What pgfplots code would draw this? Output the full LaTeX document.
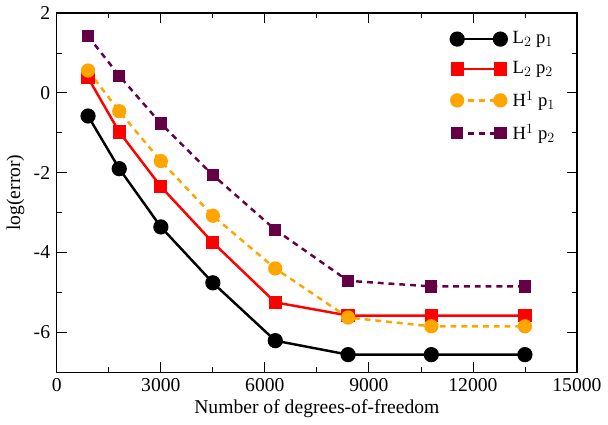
\documentclass[border=0pt]{standalone}
\usepackage{pgfplots}
\pgfplotsset{compat=1.18}
\usepackage{fontspec}
\setmainfont{Liberation Serif}
\definecolor{cpurple}{HTML}{660044}
\definecolor{corange}{HTML}{FFA500}
\begin{document}
\fontsize{20}{24}\selectfont
\begin{tikzpicture}
\begin{axis}[
  scale only axis,
  width=530pt, height=366pt,
  xmin=0, xmax=15000, ymin=-7, ymax=2,
  scaled x ticks=false,
  xtick={0,3000,6000,9000,12000,15000},
  minor xtick={1500,4500,7500,10500,13500},
  ytick={-6,-4,-2,0,2},
  minor ytick={-7,-5,-3,-1,1},
  tick align=inside,
  major tick length=10pt, minor tick length=5pt,
  every tick/.style={black, line width=0.8pt},
  axis line style={line width=1.2pt},
  /pgf/number format/1000 sep={},
  /pgf/number format/assume math mode=true,
  ticklabel style={font=\fontsize{20}{24}\selectfont},
  label style={font=\fontsize{20}{24}\selectfont},
  xlabel={Number of degrees-of-freedom},
  ylabel={log(error)},
  xlabel style={yshift=6pt},
  ylabel style={yshift=-4pt},
  legend style={draw=none, fill=none, at={(0.975,0.96)}, anchor=north east,
    font=\fontsize{19}{22}\selectfont, row sep=11pt, nodes={inner xsep=6pt}},
  legend cell align=left,
  legend image code/.code={\draw[#1] plot coordinates {(0pt,0pt) (44pt,0pt)};},
]
\addplot[black, line width=2.5pt, mark=*, mark size=6.5pt, mark options={solid}]
 coordinates {(900,-0.58) (1800,-1.90) (3000,-3.36) (4500,-4.76) (6300,-6.21) (8400,-6.56) (10800,-6.56) (13500,-6.56)};
\addlegendentry{L$_2$ p$_1$}
\addplot[red, line width=2.5pt, mark=square*, mark size=5.5pt, mark options={solid}]
 coordinates {(900,0.38) (1800,-0.98) (3000,-2.35) (4500,-3.75) (6300,-5.25) (8400,-5.58) (10800,-5.58) (13500,-5.58)};
\addlegendentry{L$_2$ p$_2$}
\addplot[corange, line width=2.5pt, dash pattern=on 6pt off 5pt, mark=*, mark size=6pt, mark options={solid}]
 coordinates {(900,0.56) (1800,-0.46) (3000,-1.71) (4500,-3.08) (6300,-4.40) (8400,-5.63) (10800,-5.85) (13500,-5.85)};
\addlegendentry{H$^1$ p$_1$}
\addplot[cpurple, line width=2.5pt, dash pattern=on 6pt off 5pt, mark=square*, mark size=5pt, mark options={solid}]
 coordinates {(900,1.42) (1800,0.43) (3000,-0.77) (4500,-2.06) (6300,-3.43) (8400,-4.71) (10800,-4.85) (13500,-4.85)};
\addlegendentry{H$^1$ p$_2$}
\end{axis}
\end{tikzpicture}
\end{document}
